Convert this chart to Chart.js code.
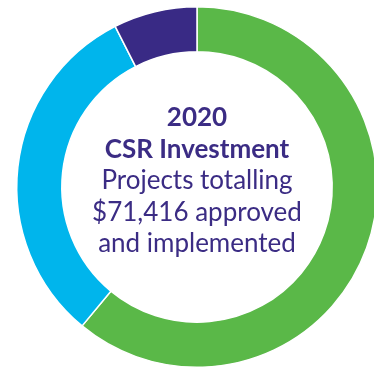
<!DOCTYPE html>
<html>
<head>
<meta charset="utf-8">
<script src="https://cdn.jsdelivr.net/npm/chart.js@4.4.0/dist/chart.umd.min.js"></script>
<style>
  html, body { margin: 0; padding: 0; background: #fff; overflow: hidden; }
  #wrap { position: absolute; left: 0; top: 0; width: 394px; height: 372px; }
</style>
</head>
<body>
<div id="wrap"><canvas id="csrChart"></canvas></div>
<script>
// share of the 2020 CSR budget per area (percent)
const areas = ["Community", "Education", "Environment"];
const shares = [61, 31.5, 7.5];
const areaColors = ["#5ab848", "#00b5ec", "#392a85"];

const centerLines = [
    { text: "2020", bold: true },
    { text: "CSR Investment", bold: true },
    { text: "Projects totalling", bold: false },
    { text: "$71,416 approved", bold: false },
    { text: "and implemented", bold: false }
];

const centerText = {
    id: "centerText",
    afterDraw(chart) {
        const ctx = chart.ctx;
        const meta = chart.getDatasetMeta(0).data[0];
        const x = meta.x;
        const lineH = 31.5;
        let y = meta.y - 2 * lineH - 6;
        ctx.save();
        ctx.fillStyle = "#3b2c84";
        ctx.textAlign = "center";
        ctx.textBaseline = "middle";
        centerLines.forEach(line => {
            ctx.font = (line.bold ? "bold " : "") + "26px Lato";
            ctx.fillText(line.text, x, y);
            y += lineH;
        });
        ctx.restore();
    }
};

new Chart(document.getElementById("csrChart"), {
    type: "doughnut",
    data: {
        labels: areas,
        datasets: [{
            data: shares,
            backgroundColor: areaColors,
            borderColor: "#ffffff",
            borderWidth: 1.5
        }]
    },
    options: {
        responsive: true,
        maintainAspectRatio: false,
        animation: false,
        cutout: "75%",
        layout: { padding: { top: 6, bottom: 4, left: 16, right: 16 } },
        plugins: {
            legend: { display: false },
            tooltip: { enabled: false }
        }
    },
    plugins: [centerText]
});
</script>
</body>
</html>
